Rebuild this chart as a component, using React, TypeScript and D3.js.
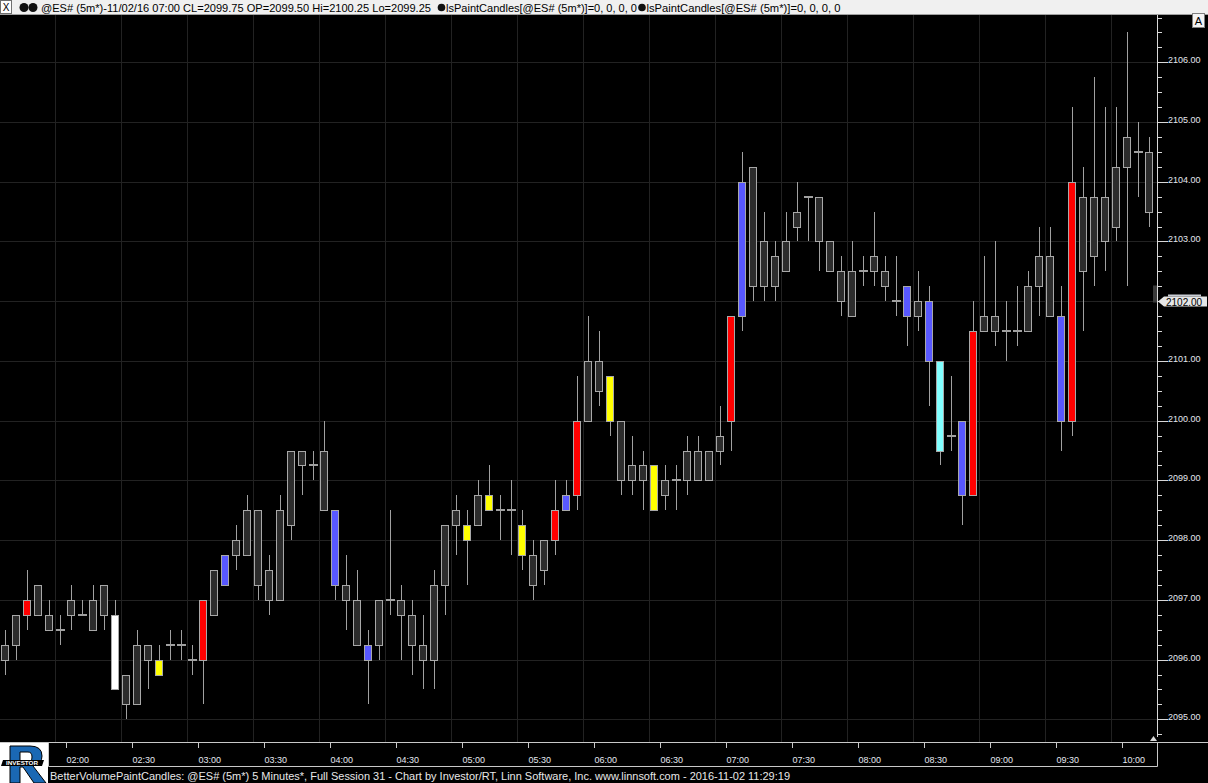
import * as d3 from "d3";
import React from "react";

const W = 1208;
const H = 783;

// session start (close time of first bar) and bar length
const startMinutes = 95; // 01:35
const barMinutes = 5;

const opens = [
  2096.0, 2096.25, 2096.75, 2097.25, 2096.75, 2096.5, 2096.75, 2096.75, 2096.5, 2097.25,
  2096.75, 2095.75, 2095.25, 2096.25, 2096.0, 2096.25, 2096.25, 2096.0, 2096.0, 2096.75,
  2097.25, 2097.75, 2097.75, 2098.5, 2097.5, 2097.0, 2098.25, 2099.5, 2099.25, 2099.5,
  2098.5, 2097.25, 2097.0, 2096.25, 2096.25, 2097.0, 2097.0, 2096.75, 2096.25, 2096.0,
  2097.25, 2098.25, 2098.25, 2098.25, 2098.75, 2098.5, 2098.5, 2098.25, 2097.75, 2097.5,
  2098.0, 2098.5, 2098.75, 2100.0, 2101.0, 2100.75, 2100.0, 2099.0, 2099.25, 2099.25,
  2098.75, 2099.0, 2099.0, 2099.5, 2099.0, 2099.5, 2100.0, 2101.75, 2104.25, 2102.25,
  2102.75, 2102.5, 2103.25, 2103.75, 2103.75, 2103.0, 2102.5, 2101.75, 2102.5, 2102.5,
  2102.5, 2102.0, 2102.25, 2101.75, 2102.0, 2101.0, 2099.75, 2100.0, 2098.75, 2101.5,
  2101.75, 2101.5, 2101.5, 2101.5, 2102.25, 2102.75, 2101.75, 2100.0, 2103.75, 2102.75,
  2103.75, 2103.25, 2104.25, 2104.5, 2104.5,
];
const highs = [
  2096.5, 2096.75, 2097.5, 2097.25, 2097.0, 2096.75, 2097.25, 2097.0, 2097.25, 2097.25,
  2097.0, 2095.75, 2096.5, 2096.25, 2096.25, 2096.5, 2096.5, 2096.25, 2097.0, 2097.5,
  2097.75, 2098.25, 2098.75, 2098.5, 2097.75, 2098.75, 2099.5, 2099.5, 2099.5, 2100.0,
  2098.5, 2097.75, 2097.5, 2096.5, 2097.0, 2098.5, 2097.25, 2097.0, 2096.75, 2097.5,
  2098.25, 2098.75, 2098.5, 2099.0, 2099.25, 2098.75, 2099.0, 2098.5, 2098.0, 2098.0,
  2099.0, 2099.0, 2100.75, 2101.75, 2101.5, 2100.75, 2100.0, 2099.75, 2099.5, 2099.25,
  2099.25, 2099.25, 2099.75, 2099.75, 2099.5, 2100.25, 2101.75, 2104.5, 2104.25, 2103.5,
  2103.0, 2103.5, 2104.0, 2103.75, 2103.75, 2103.0, 2102.75, 2103.0, 2102.75, 2103.5,
  2102.75, 2102.75, 2102.25, 2102.5, 2102.25, 2101.0, 2100.75, 2100.0, 2102.0, 2102.75,
  2103.0, 2102.0, 2102.25, 2102.5, 2103.25, 2103.25, 2102.25, 2105.25, 2104.25, 2105.75,
  2105.25, 2105.25, 2106.5, 2105.0, 2104.75,
];
const lows = [
  2095.75, 2096.0, 2096.5, 2096.75, 2096.5, 2096.25, 2096.5, 2096.75, 2096.5, 2096.5,
  2095.5, 2095.0, 2095.25, 2095.5, 2095.75, 2096.0, 2096.0, 2095.75, 2095.25, 2096.75,
  2097.25, 2097.5, 2097.75, 2097.0, 2096.75, 2097.0, 2098.0, 2098.75, 2099.0, 2098.5,
  2097.0, 2096.5, 2096.25, 2095.25, 2096.0, 2096.75, 2096.0, 2095.75, 2095.5, 2095.5,
  2096.75, 2097.75, 2097.25, 2098.25, 2098.5, 2098.0, 2097.75, 2097.5, 2097.0, 2097.25,
  2097.75, 2098.5, 2098.5, 2100.0, 2100.25, 2099.75, 2098.75, 2098.75, 2098.5, 2098.5,
  2098.5, 2098.5, 2098.75, 2099.0, 2099.0, 2099.25, 2099.5, 2101.5, 2102.0, 2102.0,
  2102.0, 2102.5, 2103.0, 2103.0, 2102.5, 2102.5, 2101.75, 2101.75, 2102.25, 2102.25,
  2102.0, 2101.75, 2101.25, 2101.5, 2100.25, 2099.25, 2099.5, 2098.25, 2098.75, 2101.5,
  2101.25, 2101.0, 2101.25, 2101.5, 2101.75, 2101.75, 2099.5, 2099.75, 2101.5, 2102.25,
  2102.5, 2103.0, 2102.25, 2103.75, 2103.25,
];
const closes = [
  2096.25, 2096.75, 2097.0, 2096.75, 2096.5, 2096.5, 2097.0, 2096.75, 2097.0, 2096.75,
  2095.5, 2095.25, 2096.25, 2096.0, 2095.75, 2096.25, 2096.25, 2096.0, 2097.0, 2097.5,
  2097.75, 2098.0, 2098.5, 2097.25, 2097.0, 2098.5, 2099.5, 2099.25, 2099.25, 2098.5,
  2097.25, 2097.0, 2096.25, 2096.0, 2097.0, 2097.0, 2096.75, 2096.25, 2096.0, 2097.25,
  2098.25, 2098.5, 2098.0, 2098.75, 2098.5, 2098.5, 2098.5, 2097.75, 2097.25, 2098.0,
  2098.5, 2098.75, 2100.0, 2101.0, 2100.5, 2100.0, 2099.0, 2099.25, 2099.0, 2098.5,
  2099.0, 2099.0, 2099.5, 2099.0, 2099.5, 2099.75, 2101.75, 2104.0, 2102.25, 2103.0,
  2102.25, 2103.0, 2103.5, 2103.75, 2103.0, 2102.5, 2102.0, 2102.5, 2102.5, 2102.75,
  2102.25, 2102.0, 2101.75, 2102.0, 2101.0, 2099.5, 2099.75, 2098.75, 2101.5, 2101.75,
  2101.5, 2101.5, 2101.5, 2102.25, 2102.75, 2101.75, 2100.0, 2104.0, 2102.5, 2103.75,
  2103.0, 2104.25, 2104.75, 2104.5, 2103.5,
];
// paint codes per bar: g gray, r red, b blue, y yellow, w white, c cyan
const paint = (
  "ggrggggggg" + "wgggygggrg" + "bggggggggg" + "bggbgggggg" + "ggygyggygg" +
  "rbrggygggy" + "ggggggrbgg" + "gggggggggg" + "ggbgbcgbrg" + "ggggggbrgg" + "ggggg"
).split("");

const priceLabels = [2095, 2096, 2097, 2098, 2099, 2100, 2101, 2102, 2103, 2104, 2105, 2106];
const timeLabels = [
  "02:00", "02:30", "03:00", "03:30", "04:00", "04:30", "05:00", "05:30", "06:00",
  "06:30", "07:00", "07:30", "08:00", "08:30", "09:00", "09:30", "10:00",
];
const headerBar = 65;
const markerPrice = 2102;

const paintColors = {
  g: "#2c2c2c",
  r: "#ff0000",
  b: "#5858ff",
  y: "#ffff00",
  w: "#ffffff",
  c: "#80ffff",
};

const FONT = "'Liberation Sans', Arial, sans-serif";

function barTime(i) {
  const m = startMinutes + i * barMinutes;
  return `${String(Math.floor(m / 60)).padStart(2, "0")}:${String(m % 60).padStart(2, "0")}`;
}

export default function App() {
  const n = opens.length;
  const idx = d3.range(n);
  const plotTop = 15;
  const plotBottom = 742;
  const plotRight = 1157;

  const x = d3
    .scaleBand()
    .domain(idx)
    .range([0, 1155])
    .paddingInner(3 / 11)
    .paddingOuter(1.5 / 11);
  const step = x.step();
  const y = d3.scaleLinear().domain([2095, 2106]).range([719.3, 62.3]);
  const py = (p) => Math.round(y(p)) + 0.5;

  const minorTicks = d3.range(2094.75, 2106.8, 0.25).filter((p) => p % 1 !== 0);
  const times = idx.map(barTime);
  const timeTicks = timeLabels.map((t) => ({ t, i: times.indexOf(t) })).filter((d) => d.i >= 0);

  const hdr = `@ES# (5m*)-11/02/16 ${times[headerBar]} CL=${closes[headerBar].toFixed(2)} OP=${opens[headerBar].toFixed(2)} Hi=${highs[headerBar].toFixed(2)} Lo=${lows[headerBar].toFixed(2)}`;

  return (
    <svg
      width={W}
      height={H}
      style={{ position: "absolute", left: 0, top: 0, display: "block", background: "#000" }}
      fontFamily={FONT}
    >
      <rect width={W} height={H} fill="#000" />

      {/* grid */}
      <g stroke="#222" strokeWidth={1}>
        {priceLabels.map((p) => (
          <line key={p} x1={0} x2={plotRight} y1={py(p)} y2={py(p)} />
        ))}
        {timeTicks.map(({ t, i }) => {
          const gx = Math.round(x(i) - (step - x.bandwidth()) / 2) + 0.5;
          return <line key={t} x1={gx} x2={gx} y1={plotTop} y2={plotBottom} />;
        })}
      </g>

      {/* candles */}
      <g>
        {idx.map((i) => {
          const left = Math.floor(x(i));
          const cx = left + 4.5;
          const o = opens[i], c = closes[i];
          const top = Math.max(o, c), bot = Math.min(o, c);
          const yt = Math.round(y(top)), yb = Math.round(y(bot));
          return (
            <g key={i}>
              <line x1={cx} x2={cx} y1={Math.round(y(highs[i]))} y2={Math.round(y(lows[i]))} stroke="#a0a0a0" />
              {o === c ? (
                <rect x={left} y={yt - 1} width={9} height={2} fill="#a0a0a0" />
              ) : (
                <rect
                  x={left + 0.5}
                  y={yt + 0.5}
                  width={7}
                  height={yb - yt}
                  fill={paintColors[paint[i]]}
                  stroke="#a8a8a8"
                  strokeWidth={1}
                />
              )}
            </g>
          );
        })}
      </g>

      {/* price axis */}
      <g>
        <line x1={plotRight + 0.5} x2={plotRight + 0.5} y1={plotTop} y2={737} stroke="#d8d8d8" />
        {minorTicks.map((p) => (
          <line key={p} x1={plotRight + 1} x2={plotRight + 5} y1={py(p)} y2={py(p)} stroke="#d8d8d8" />
        ))}
        {priceLabels.map((p) => (
          <g key={p}>
            <line x1={plotRight + 1} x2={plotRight + 11} y1={py(p)} y2={py(p)} stroke="#d8d8d8" />
            {p !== markerPrice && (
              <text x={1168} y={py(p)} fontSize={9} fill="#e4e8f0">
                {p.toFixed(2)}
              </text>
            )}
          </g>
        ))}
        <polygon points="1150,741 1157,741 1153.5,736" fill="#d8d8d8" />
        <rect x={1153} y={py(markerPrice) - 16} width={4} height={17} fill="#3a3a3a" />
        <rect x={1168} y={py(markerPrice) - 7} width={33} height={2} fill="#c8ccd4" />
        <polygon
          points={`1158,${py(markerPrice)} 1164,${py(markerPrice) - 5} 1164,${py(markerPrice) + 5}`}
          fill="#e6e6e6"
        />
        <rect x={1164} y={py(markerPrice) - 5} width={43} height={10} fill="#e6e6e6" />
        <text x={1166} y={py(markerPrice) + 4} fontSize={10} fill="#000">
          {markerPrice.toFixed(2)}
        </text>
      </g>

      {/* time axis */}
      <g>
        <line x1={0} x2={W} y1={742.5} y2={742.5} stroke="#c8c8c8" />
        <path d={`M48.5,742.5 V766.5 H${plotRight + 0.5} V742.5`} fill="none" stroke="#c8c8c8" />
        {timeTicks.map(({ t, i }) => {
          const tx = Math.round(x(i) + x.bandwidth() + (step - x.bandwidth()) / 2) + 0.5;
          return (
            <g key={t}>
              <line x1={tx} x2={tx} y1={743} y2={748} stroke="#c8c8c8" />
              <text x={tx} y={763} fontSize={9} fill="#e4e8f0">
                {t}
              </text>
            </g>
          );
        })}
        <text x={50} y={779.5} fontSize={11} fill="#e8e8e8" textLength={740} lengthAdjust="spacingAndGlyphs">
          BetterVolumePaintCandles: @ES# (5m*) 5 Minutes*, Full Session 31 - Chart by Investor/RT, Linn Software, Inc. www.linnsoft.com - 2016-11-02 11:29:19
        </text>
      </g>

      {/* logo */}
      <g>
        <rect x={0} y={743} width={48} height={40} fill="#fff" />
        <path d="M10,746 H30 Q42,746 42,756 Q42,764 33,766 L46,783 H34 L23,767 H20 V783 H10 Z M20,752 V762 H28 Q32,762 32,757 Q32,752 28,752 Z"
          fill="#1a68b4" stroke="#000" strokeWidth={1} fillRule="evenodd" />
        <polygon points="3,760 44,760 42,766 1,766" fill="#000" />
        <text x={6} y={765} fontSize={5} fill="#fff" fontWeight="bold" textLength={32} lengthAdjust="spacingAndGlyphs">
          INVESTOR
        </text>
      </g>

      {/* header */}
      <g>
        <rect x={0} y={0} width={W} height={15} fill="#f0f0f0" />
        <line x1={0} x2={W} y1={14.5} y2={14.5} stroke="#a0a0a0" />
        <rect x={0.5} y={0.5} width={11} height={13} fill="#fff" stroke="#707070" />
        <text x={6} y={11} fontSize={10} textAnchor="middle" fill="#000">X</text>
        <circle cx={24} cy={7.5} r={4.5} fill="#111" />
        <circle cx={33} cy={7.5} r={4.5} fill="#111" />
        <text x={41} y={11.5} fontSize={11} fill="#000" textLength={390} lengthAdjust="spacingAndGlyphs">
          {hdr}
        </text>
        <circle cx={441.5} cy={7.5} r={3.8} fill="#111" />
        <text x={446} y={11.5} fontSize={11} fill="#000" textLength={191} lengthAdjust="spacingAndGlyphs">
          lsPaintCandles[@ES# (5m*)]=0, 0, 0, 0
        </text>
        <circle cx={642} cy={7.5} r={3.8} fill="#111" />
        <text x={646.5} y={11.5} fontSize={11} fill="#000" textLength={194} lengthAdjust="spacingAndGlyphs">
          lsPaintCandles[@ES# (5m*)]=0, 0, 0, 0
        </text>
      </g>

      {/* autoscale button */}
      <rect x={1192.5} y={13.5} width={12} height={14} fill="#f4f4f4" stroke="#808080" />
      <text x={1198.5} y={25} fontSize={11} textAnchor="middle" fill="#000">A</text>
    </svg>
  );
}
